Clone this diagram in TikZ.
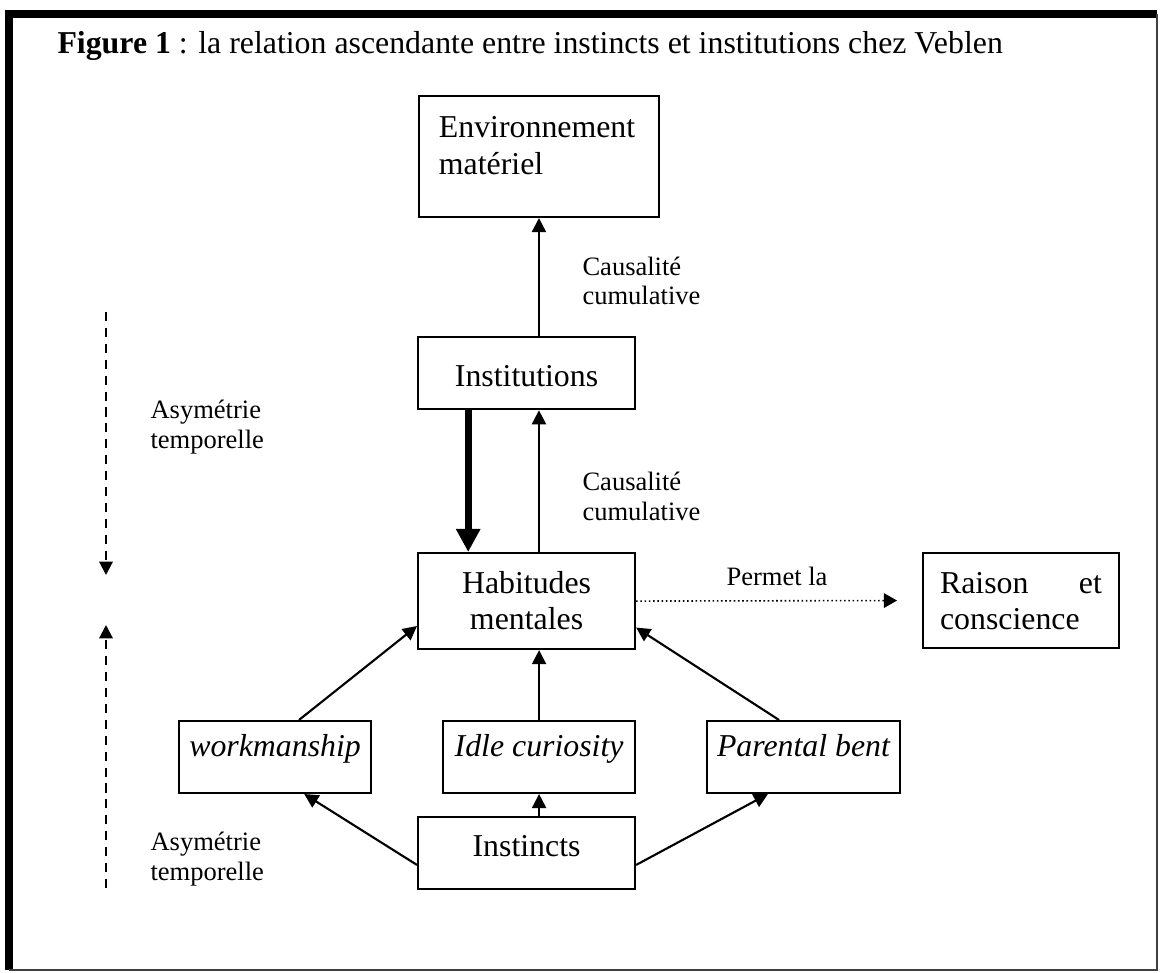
\documentclass[tikz,border=0pt]{standalone}
\usepackage{fontspec}
\setmainfont{Liberation Serif}
\usetikzlibrary{arrows.meta}

\begin{document}
\begin{tikzpicture}[
  x=0.377pt, y=-0.377pt,
  box/.style={draw, line width=0.8pt, inner ysep=0pt, anchor=north west, font=\fontsize{12pt}{13.6pt}\selectfont},
  instinctbox/.style={box, inner xsep=0pt, font=\fontsize{12pt}{13.6pt}\selectfont\itshape, text height=13.2pt, text depth=13.9pt},
  lbl/.style={anchor=base west, align=left, inner sep=0pt, font=\fontsize{10pt}{11.3pt}\selectfont},
  arr/.style={-{Triangle[length=5.3pt,width=5.3pt]}, line width=0.8pt},
  thickarr/.style={-{Triangle[length=8.7pt,width=8.7pt]}, line width=2.5pt},
  dotarr/.style={-{Triangle[length=5pt,width=5.5pt]}, line width=0.6pt, densely dotted},
  dasharr/.style={-{Triangle[length=5pt,width=5pt]}, line width=0.8pt, dash pattern=on 3.4pt off 2.6pt}
]
  \useasboundingbox (0,0) rectangle (1160,972);
  % frame
  \draw[line width=3pt] (1157,14) -- (9,14) -- (9,970);
  \draw[black!75, line width=0.8pt] (1157,14) -- (1157,970) -- (9,970);

  \node[anchor=base west, inner sep=0pt, font=\fontsize{12pt}{13.6pt}\selectfont] (title) at (57,54)
    {\textbf{Figure 1} : la relation ascendante entre instincts et institutions chez Veblen};

  \node[box, text width=75.4pt, inner xsep=7.5pt, align=left, text height=15.8pt, text depth=29.8pt] (env) at (418,95) {Environnement\\matériel};
  \node[box, minimum width=81.8pt, inner xsep=0pt, text height=18.5pt, text depth=8.7pt] (instit) at (417,336) {Institutions};
  \node[box, minimum width=81.8pt, inner xsep=0pt, align=center, text height=28.7pt, text depth=7.5pt] (hab) at (417,552) {Habitudes\\mentales};
  \node[box, text width=61pt, inner xsep=6.4pt, align=left, text height=15.1pt, text depth=20.7pt] (rais) at (922,552) {Raison\hfill et\\conscience};

  \node[instinctbox, minimum width=72.4pt] (work) at (178,720) {workmanship};
  \node[instinctbox, minimum width=72.4pt] (idle) at (442,720) {Idle curiosity};
  \node[instinctbox, minimum width=72.7pt] (par) at (706,720) {Parental bent};
  \node[box, minimum width=81.8pt, inner xsep=0pt, text height=14.7pt, text depth=12.4pt] (instc) at (417,816) {Instincts};

  \node[lbl] (cc1) at (582,305) {Causalité\\cumulative};
  \node[lbl] (cc2) at (582,520) {Causalité\\cumulative};
  \node[lbl] (asy1) at (150,448) {Asymétrie\\temporelle};
  \node[lbl] (asy2) at (150,880) {Asymétrie\\temporelle};
  \node[lbl] (perm) at (726,585) {Permet la};

  \coordinate (a1) at (106,312);
  \coordinate (a2) at (106,575);
  \coordinate (b1) at (106,888);
  \coordinate (b2) at (106,625);

  \draw[arr] (instit.north -| env.south) -- (env.south);
  \draw[thickarr] ([xshift=-22pt]instit.south) -- ([xshift=-22pt]hab.north);
  \draw[arr] (hab.north -| env.south) -- (instit.south -| env.south);
  \draw[dotarr] (hab.east) -- ([xshift=-9.4pt]rais.west);
  \draw[arr] (idle.north) -- (hab.south -| idle.north);
  \draw[arr] (instc.north -| idle.south) -- (idle.south);
  \draw[arr] ([xshift=9pt]work.north) -- ([yshift=-9.4pt]hab.west);
  \draw[arr] ([xshift=-9.2pt]par.north) -- ([yshift=-10pt]hab.east);
  \draw[arr] ([yshift=-4.5pt]instc.west) -- ([xshift=11pt]work.south);
  \draw[arr] ([yshift=-4.5pt]instc.east) -- ([xshift=-13.4pt]par.south);

  \draw[dasharr] (a1) -- (a2);
  \draw[dasharr] (b1) -- (b2);
\end{tikzpicture}
\end{document}
